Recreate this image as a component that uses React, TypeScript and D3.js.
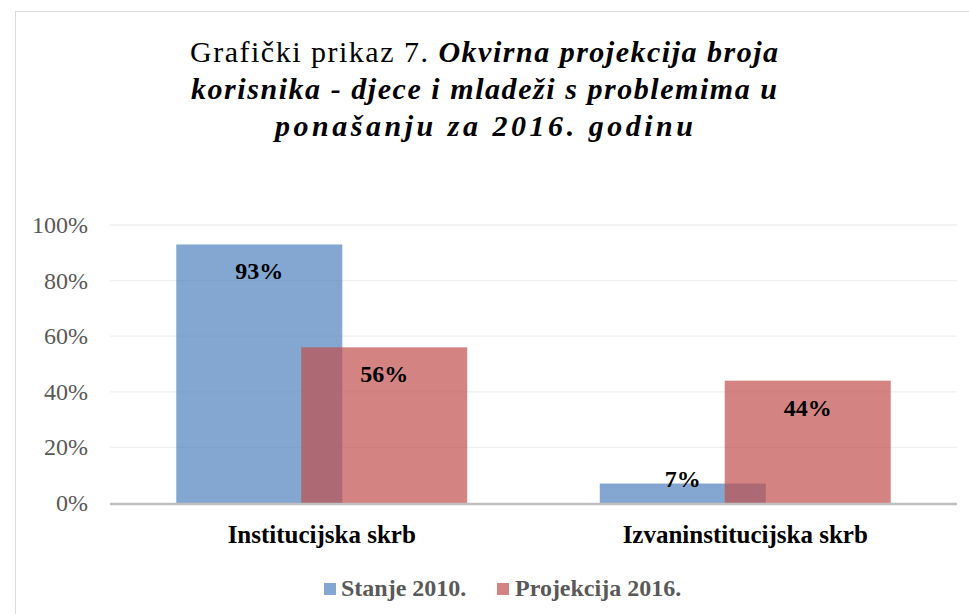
import React from "react";
import * as d3 from "d3";

const categories = ["Institucijska skrb", "Izvaninstitucijska skrb"];
const seriesNames = ["Stanje 2010.", "Projekcija 2016."];
const stanje2010 = [0.93, 0.07];
const projekcija2016 = [0.56, 0.44];
const yTicks = [0, 0.2, 0.4, 0.6, 0.8, 1.0];

const W = 969;
const H = 614;
const serif = "Liberation Serif";
const colors = ["#4F81BD", "#C0504D"];

export default function App() {
  const x = d3.scaleBand<string>().domain(categories).range([110, 957]).padding(0);
  const y = d3.scaleLinear().domain([0, 1]).range([503, 225]);
  const band = x.bandwidth();
  const barW = band * 0.392;
  const step = band * 0.295;
  const fmt = d3.format(".0%");
  const series = [stanje2010, projekcija2016];

  const barX = (cat: string, si: number) => {
    const c = (x(cat) as number) + band / 2;
    return c - (step + barW) / 2 + si * step;
  };

  const f = { fontFamily: serif };
  const bi = { fontFamily: serif, fontStyle: "italic", fontWeight: 700 } as React.CSSProperties;
  const b = { fontFamily: serif, fontWeight: 700 } as React.CSSProperties;

  return (
    <svg width={W} height={H} style={{ position: "absolute", left: 0, top: 0, background: "#fff" }}>
      <rect x={15.5} y={11.5} width={W + 10} height={H + 10} fill="#fff" stroke="#d9d9d9" strokeWidth={1} />
      {/* title */}
      <g fill="#000" textAnchor="middle" fontSize={30} style={f}>
        <text x={484} y={62} textLength={588} lengthAdjust="spacing" style={f}>
          <tspan style={f}>Grafički prikaz 7. </tspan>
          <tspan style={bi}>Okvirna projekcija broja</tspan>
        </text>
        <text x={484} y={99} textLength={586} lengthAdjust="spacing" style={bi}>
          korisnika - djece i mladeži s problemima u
        </text>
        <text x={484} y={136} textLength={418} lengthAdjust="spacing" style={bi}>
          ponašanju za 2016. godinu
        </text>
      </g>
      {/* gridlines */}
      {yTicks.filter((t) => t > 0).map((t) => (
        <line key={t} x1={110} x2={957} y1={y(t)} y2={y(t)} stroke="#efefef" strokeWidth={1.3} />
      ))}
      {/* y tick labels */}
      {yTicks.map((t) => (
        <text key={t} x={88} y={y(t) + 8} textAnchor="end" fontSize={24} fill="#595959" style={f}>
          {fmt(t)}
        </text>
      ))}
      {/* bars */}
      {series.map((vals, si) =>
        categories.map((cat, ci) => (
          <rect
            key={`${si}-${ci}`}
            x={barX(cat, si)}
            y={y(vals[ci])}
            width={barW}
            height={y(0) - y(vals[ci])}
            fill={colors[si]}
            fillOpacity={0.7}
          />
        ))
      )}
      {/* axis line */}
      <line x1={110} x2={957} y1={y(0) + 1} y2={y(0) + 1} stroke="#bfbfbf" strokeWidth={2.5} />
      {/* data labels */}
      {series.map((vals, si) =>
        categories.map((cat, ci) => {
          const h = y(0) - y(vals[ci]);
          const ly = h >= 45 ? y(vals[ci]) + 35 : y(0) - 16;
          return (
            <text
              key={`l${si}-${ci}`}
              x={barX(cat, si) + barW / 2}
              y={ly}
              textAnchor="middle"
              fontSize={24}
              fill="#000"
              style={b}
            >
              {fmt(vals[ci])}
            </text>
          );
        })
      )}
      {/* category labels */}
      {categories.map((cat) => (
        <text
          key={cat}
          x={(x(cat) as number) + band / 2}
          y={543}
          textAnchor="middle"
          fontSize={25}
          fill="#000"
          style={b}
        >
          {cat}
        </text>
      ))}
      {/* legend */}
      <g fontSize={24} fill="#595959" style={b}>
        <rect x={324} y={583} width={12} height={12} fill={colors[0]} fillOpacity={0.7} />
        <text x={341} y={596} style={b}>{seriesNames[0]}</text>
        <rect x={497} y={583} width={12} height={12} fill={colors[1]} fillOpacity={0.7} />
        <text x={515} y={596} style={b}>{seriesNames[1]}</text>
      </g>
    </svg>
  );
}
